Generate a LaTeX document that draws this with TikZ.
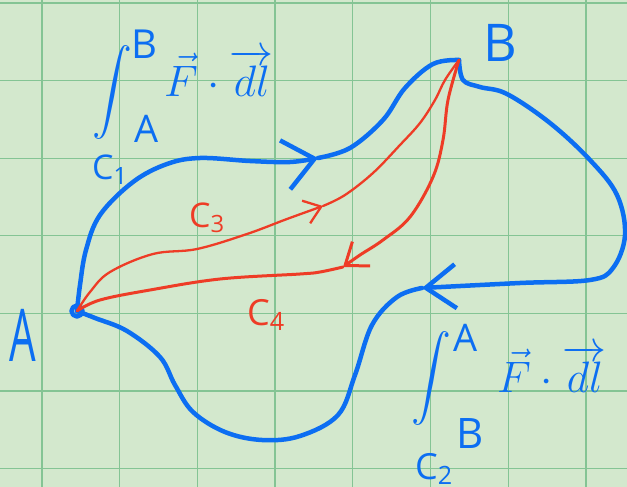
\RequirePackage{fix-cm}
\documentclass[tikz,border=0pt]{standalone}
\usepackage{amsmath}
\usepackage{graphicx}
\usepackage{fontspec}
\setsansfont{Open Sans}
\usetikzlibrary{arrows.meta}
\definecolor{paper}{RGB}{211,232,205}
\definecolor{gridgreen}{RGB}{132,196,148}
\definecolor{penblue}{RGB}{12,110,242}
\definecolor{penred}{RGB}{238,60,38}
\newcommand{\tallint}{\scalebox{1.6}[1.7]{$\displaystyle\int$}}

\begin{document}
\begin{tikzpicture}[x=1pt, y=-1pt,
    gridline/.style={draw=gridgreen, line width=1.3pt},
    bluepen/.style={draw=penblue, line width=4.5pt, line cap=round, line join=round},
    redpen/.style={draw=penred, line width=3pt, line cap=round, line join=round},
    thinred/.style={redpen, line width=2.3pt},
    handtext/.style={font=\sffamily\fontsize{#1}{#1}\selectfont, inner sep=0pt},
    mathtext/.style={font=\fontsize{#1}{#1}\selectfont, inner sep=0pt, text=penblue}
]
    % paper and squares
    \fill[paper] (0,0) rectangle (627,487);
    \useasboundingbox (0,0) rectangle (627,487);
    \foreach \gx in {42,119.7,...,620} \draw[gridline] (\gx,0) -- (\gx,487);
    \foreach \gy in {3,80.6,...,480} \draw[gridline] (0,\gy) -- (627,\gy);

    % end points and arrow tips
    \coordinate (A) at (77,311);
    \coordinate (B) at (459,60);
    \coordinate (c1tip) at (318,158);
    \coordinate (c2tip) at (422,288);
    \coordinate (c3tip) at (323,206);
    \coordinate (c4tip) at (343,267);

    % C1 : A to B (upper)
    \draw[bluepen, -{Straight Barb[length=30pt, width=50pt]}] plot[smooth, tension=0.6]
        coordinates {(A) (80,285) (86,250) (100,215) (133,182) (167,164) (200,158) (250,161) (290,162) (c1tip)};
    \draw[bluepen] plot[smooth, tension=0.6]
        coordinates {(c1tip) (350,148) (383,120) (405,88) (433,64) (B)};

    % C2 : B back to A (outer loop)
    \draw[bluepen, -{Straight Barb[length=30pt, width=44pt]}] plot[smooth, tension=0.6]
        coordinates {(B) (463,80) (480,87) (507,94) (550,123) (590,160) (617,195) (625,235) (613,268) (590,280) (520,283) (c2tip)};
    \draw[bluepen] plot[smooth, tension=0.6]
        coordinates {(c2tip) (397,297) (372,325) (355,375) (338,415) (300,436) (262,440) (225,432) (193,412) (175,385) (160,357) (127,331) (95,318) (A)};
    \draw[bluepen] (A) circle (5.5);

    % C3 : A to B (red, inner)
    \draw[thinred, -{Straight Barb[length=16pt, width=24pt]}] plot[smooth, tension=0.6]
        coordinates {(A) (90,292) (110,272) (153,254) (197,249) (247,234) (287,219) (c3tip)};
    \draw[thinred] plot[smooth, tension=0.6]
        coordinates {(c3tip) (345,195) (373,173) (400,145) (420,123) (435,100) (445,80) (B)};

    % C4 : B back to A (red)
    \draw[redpen, -{Straight Barb[length=20pt, width=30pt]}] plot[smooth, tension=0.6]
        coordinates {(B) (448,100) (443,140) (433,177) (410,217) (383,240) (360,255) (c4tip)};
    \draw[redpen] plot[smooth, tension=0.6]
        coordinates {(c4tip) (320,272) (300,274) (220,279) (150,290) (100,300) (A)};

    % labels
    \node[handtext=56, text=penblue] (labA) at (23,335) {\scalebox{0.75}[1.3]{A}};
    \node[handtext=52, text=penblue] (labB) at (500,43) {B};
    \node[handtext=34, text=penblue] (labC1) at (110,170) {C\textsubscript{1}};
    \node[handtext=34, text=penred] (labC3) at (207,218) {C\textsubscript{3}};
    \node[handtext=36, text=penred] (labC4) at (266,315) {C\textsubscript{4}};
    \node[handtext=36, text=penblue] (labC2) at (434,469) {C\textsubscript{2}};

    % line integral from A to B
    \node[mathtext=44] (intAB) at (112,92) {\tallint};
    \node[handtext=40, text=penblue] (intABup) at (144,44) {B};
    \node[handtext=38, text=penblue] (intABlo) at (147,129) {A};
    \node[mathtext=44, anchor=base west] (intABf) at (164,96) {$\vec F\cdot \overrightarrow{dl}$};

    % line integral from B to A
    \node[mathtext=42] (intBA) at (431,378) {\tallint};
    \node[handtext=38, text=penblue] (intBAup) at (466,338) {A};
    \node[handtext=42, text=penblue] (intBAlo) at (470,434) {B};
    \node[mathtext=44, anchor=base west] (intBAf) at (497,392) {$\vec F\cdot \overrightarrow{dl}$};
\end{tikzpicture}
\end{document}
